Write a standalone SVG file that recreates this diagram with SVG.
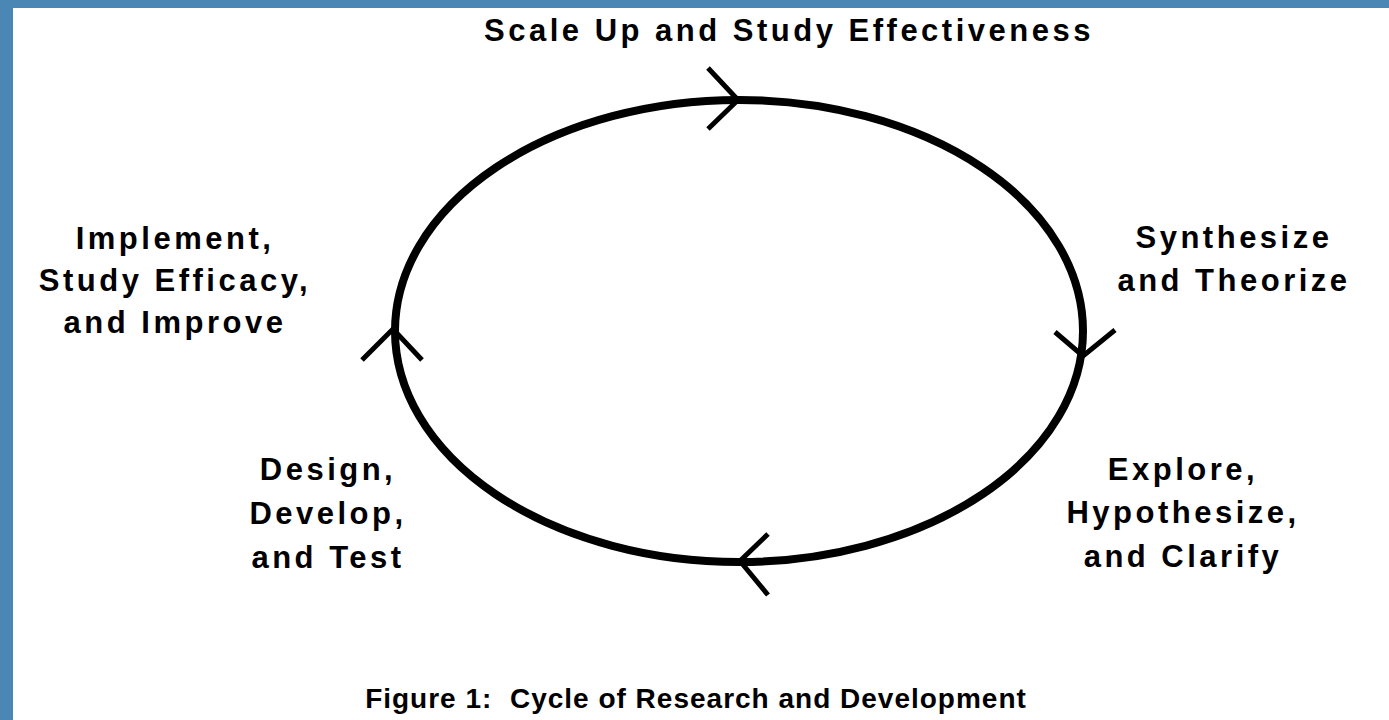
<svg xmlns="http://www.w3.org/2000/svg" width="1389" height="720" viewBox="0 0 1389 720">
  <style>
    .frame { fill: #4A87B4; }
    .label { font-family: "Liberation Sans", Arial, sans-serif; font-weight: bold; font-size: 31px; fill: #000; text-anchor: middle; letter-spacing: 3.5px; }
    .caption { font-family: "Liberation Sans", Arial, sans-serif; font-weight: bold; font-size: 28px; fill: #000; text-anchor: middle; letter-spacing: 1px; white-space: pre; }
    .cycle { fill: none; stroke: #000; stroke-width: 8; }
    .head { fill: none; stroke: #000; stroke-width: 5; stroke-linecap: butt; stroke-linejoin: miter; }
  </style>
  <rect x="0" y="0" width="1389" height="720" fill="#fff"/>
  <!-- blue frame along the top and left edges -->
  <rect class="frame" x="0" y="0" width="1389" height="8"/>
  <rect class="frame" x="0" y="0" width="13" height="720"/>

  <g id="connectors">
    <ellipse class="cycle" cx="739" cy="331" rx="344" ry="231"/>
    <!-- chevron heads showing clockwise flow -->
    <polyline class="head" points="708,68 738,100 708,129"/>
    <polyline class="head" points="1055,332 1083,356 1115,330"/>
    <polyline class="head" points="768,534 740,561 768,595"/>
    <polyline class="head" points="362,360 393,329 422,360"/>
  </g>

  <g id="scale-up">
    <text class="label" x="789" y="41">Scale Up and Study Effectiveness</text>
  </g>
  <g id="synthesize">
    <text class="label" x="1234" y="248">Synthesize</text>
    <text class="label" x="1234" y="291">and Theorize</text>
  </g>
  <g id="explore">
    <text class="label" x="1183" y="480">Explore,</text>
    <text class="label" x="1183" y="523">Hypothesize,</text>
    <text class="label" x="1183" y="567">and Clarify</text>
  </g>
  <g id="design">
    <text class="label" x="328" y="480">Design,</text>
    <text class="label" x="328" y="524">Develop,</text>
    <text class="label" x="328" y="568">and Test</text>
  </g>
  <g id="implement">
    <text class="label" x="175" y="249">Implement,</text>
    <text class="label" x="175" y="291">Study Efficacy,</text>
    <text class="label" x="175" y="333">and Improve</text>
  </g>
  <g id="caption">
    <text class="caption" x="696" y="708" xml:space="preserve">Figure 1:  Cycle of Research and Development</text>
  </g>
</svg>
